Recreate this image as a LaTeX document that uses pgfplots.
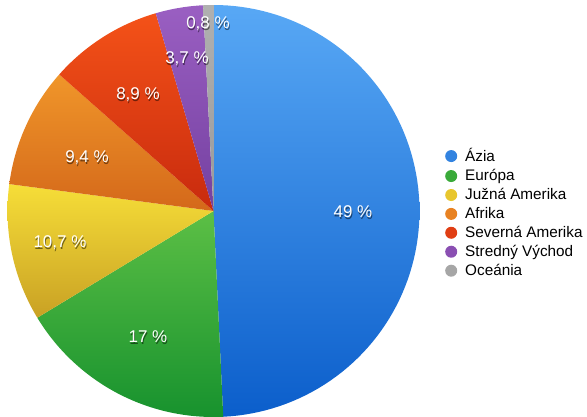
\documentclass[border=0pt]{standalone}
\usepackage{pgfplots}
\pgfplotsset{compat=1.18}
\usepackage{fontspec}
\setmainfont{Liberation Sans}
\definecolor{azTop}{HTML}{58A8F5}\definecolor{azBot}{HTML}{0B5ECB}\definecolor{azMid}{HTML}{3283E0}
\definecolor{euTop}{HTML}{5CBF45}\definecolor{euBot}{HTML}{17922E}\definecolor{euMid}{HTML}{3AAA3A}
\definecolor{juTop}{HTML}{F6DE38}\definecolor{juBot}{HTML}{C9A124}\definecolor{juMid}{HTML}{E8C62E}
\definecolor{afTop}{HTML}{F0962A}\definecolor{afBot}{HTML}{D4681A}\definecolor{afMid}{HTML}{E88222}
\definecolor{snTop}{HTML}{F45218}\definecolor{snBot}{HTML}{C82A0E}\definecolor{snMid}{HTML}{E03E14}
\definecolor{svTop}{HTML}{9A5FC2}\definecolor{svBot}{HTML}{7440A0}\definecolor{svMid}{HTML}{8A4FB2}
\definecolor{ocTop}{HTML}{B0B0B0}\definecolor{ocBot}{HTML}{9A9A9A}\definecolor{ocMid}{HTML}{A6A6A6}
\begin{document}
\begin{tikzpicture}
\def\cx{213.5}\def\cy{211}\def\R{206}\def\tot{99.5}
% values: 49, 17, 10.7, 9.4, 8.9, 3.7, 0.8
\pgfmathsetmacro\k{360/\tot}
\pgfmathsetmacro\aA{90}
\pgfmathsetmacro\aB{90-\k*49}
\pgfmathsetmacro\aC{\aB-\k*17}
\pgfmathsetmacro\aD{\aC-\k*10.7}
\pgfmathsetmacro\aE{\aD-\k*9.4}
\pgfmathsetmacro\aF{\aE-\k*8.9}
\pgfmathsetmacro\aG{\aF-\k*3.7}
\pgfmathsetmacro\aH{\aG-\k*0.8}
\newcommand\sector[4]{%
  \addplot[forget plot, draw=none, top color=#3, bottom color=#4, domain=#1:#2, samples=90, variable=\t]
    ({\cx+\R*cos(\t)},{\cy-\R*sin(\t)}) -- (axis cs:\cx,\cy) -- cycle;}
\newcommand\lab[3]{%
  \node[text=black, opacity=0.5, font=\fontsize{17}{20}\selectfont] at ([shift={(0.7pt,-1.3pt)}]axis cs:#1,#2) {#3};
  \node[text=white, font=\fontsize{17}{20}\selectfont] at (axis cs:#1,#2) {#3};}
\begin{axis}[width=587pt,height=417pt,scale only axis,
  xmin=0,xmax=587,ymin=0,ymax=417,y dir=reverse,hide axis,clip=false,
  legend style={at={(axis cs:445,146.5)},anchor=north west,draw=none,fill=none,
    font=\fontsize{15.3}{18}\selectfont, row sep=2.2pt, inner sep=0pt},
  legend cell align=left,
  legend image code/.code={\path[draw=none,fill=none] (-2pt,0pt) -- (16pt,0pt);\fill[#1, draw=none] (4pt,0pt) circle (6pt);}]
\sector{\aB}{\aA}{azTop}{azBot}
\sector{\aC}{\aB}{euTop}{euBot}
\sector{\aD}{\aC}{juTop}{juBot}
\sector{\aE}{\aD}{afTop}{afBot}
\sector{\aF}{\aE}{snTop}{snBot}
\sector{\aG}{\aF}{svTop}{svBot}
\sector{\aH}{\aG}{ocTop}{ocBot}
\addlegendimage{fill=azMid}\addlegendentry{Ázia}
\addlegendimage{fill=euMid}\addlegendentry{Európa}
\addlegendimage{fill=juMid}\addlegendentry{Južná Amerika}
\addlegendimage{fill=afMid}\addlegendentry{Afrika}
\addlegendimage{fill=snMid}\addlegendentry{Severná Amerika}
\addlegendimage{fill=svMid}\addlegendentry{Stredný Východ}
\addlegendimage{fill=ocMid}\addlegendentry{Oceánia}
\lab{353}{212}{49 \%}
\lab{148}{337}{17 \%}
\lab{60}{243}{10,7 \%}
\lab{87}{158}{9,4 \%}
\lab{138}{95}{8,9 \%}
\lab{187}{59}{3,7 \%}
\lab{208}{24}{0,8 \%}
\end{axis}
\pgfresetboundingbox
\path[use as bounding box] (current axis.south west) rectangle (current axis.north east);
\end{tikzpicture}
\end{document}
